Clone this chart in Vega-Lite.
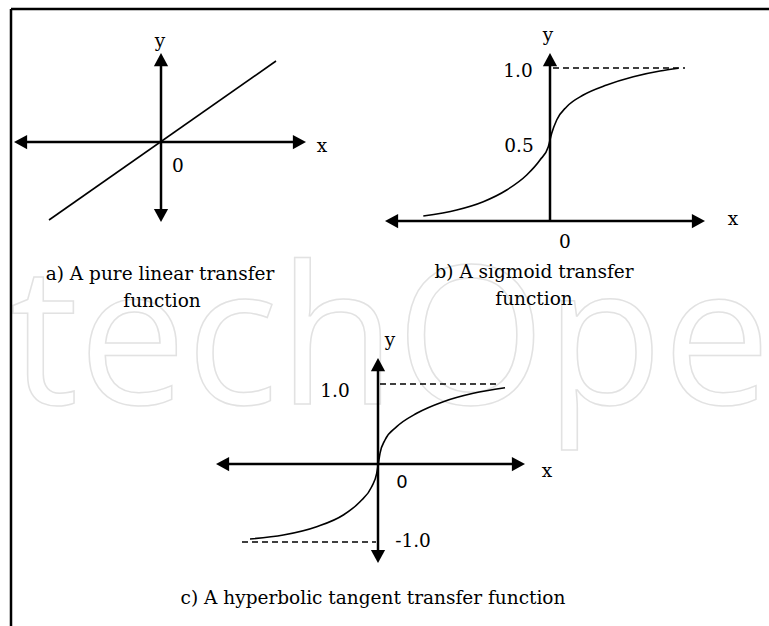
{
  "$schema": "https://vega.github.io/schema/vega-lite/v6.json",
  "width": 769,
  "height": 626,
  "padding": 0,
  "autosize": "none",
  "background": "white",
  "config": {"view": {"stroke": null}},
  "datasets": {
    "watermark": [{"x": 10, "y": 404, "label": "techOpe"}],
    "frame": [
      {"x": 11, "y": 9, "x2": 769, "y2": 9},
      {"x": 11, "y": 9, "x2": 11, "y2": 626}
    ],
    "axes": [
      {"panel": "a", "axis": "x", "x": 20, "y": 142, "x2": 300, "y2": 142},
      {"panel": "a", "axis": "y", "x": 161, "y": 59, "x2": 161, "y2": 216},
      {"panel": "b", "axis": "x", "x": 391, "y": 221, "x2": 699, "y2": 221},
      {"panel": "b", "axis": "y", "x": 550, "y": 59, "x2": 550, "y2": 221},
      {"panel": "c", "axis": "x", "x": 222, "y": 464, "x2": 519, "y2": 464},
      {"panel": "c", "axis": "y", "x": 378, "y": 364, "x2": 378, "y2": 557}
    ],
    "arrows": [
      {"panel": "a", "end": "left", "x": 14, "y": 142},
      {"panel": "a", "end": "right", "x": 306, "y": 142},
      {"panel": "a", "end": "up", "x": 161, "y": 53},
      {"panel": "a", "end": "down", "x": 161, "y": 222},
      {"panel": "b", "end": "left", "x": 385, "y": 221},
      {"panel": "b", "end": "right", "x": 705, "y": 221},
      {"panel": "b", "end": "up", "x": 550, "y": 53},
      {"panel": "c", "end": "left", "x": 216, "y": 464},
      {"panel": "c", "end": "right", "x": 525, "y": 464},
      {"panel": "c", "end": "up", "x": 378, "y": 358},
      {"panel": "c", "end": "down", "x": 378, "y": 563}
    ],
    "asymptotes": [
      {"panel": "b", "level": "1.0", "x": 553, "y": 68, "x2": 685, "y2": 68},
      {"panel": "c", "level": "1.0", "x": 380, "y": 384, "x2": 500, "y2": 384},
      {"panel": "c", "level": "-1.0", "x": 242, "y": 542, "x2": 376, "y2": 542}
    ],
    "curves": [
      {"curve": "linear", "i": 0, "x": 49, "y": 220},
      {"curve": "linear", "i": 1, "x": 276, "y": 61},
      {"curve": "sigmoid", "i": 0, "x": 423.3, "y": 216},
      {"curve": "sigmoid", "i": 1, "x": 456.7, "y": 210},
      {"curve": "sigmoid", "i": 2, "x": 483.3, "y": 201.7},
      {"curve": "sigmoid", "i": 3, "x": 506.7, "y": 190},
      {"curve": "sigmoid", "i": 4, "x": 526.7, "y": 175},
      {"curve": "sigmoid", "i": 5, "x": 540, "y": 160},
      {"curve": "sigmoid", "i": 6, "x": 548.3, "y": 146.7},
      {"curve": "sigmoid", "i": 7, "x": 551.7, "y": 133.3},
      {"curve": "sigmoid", "i": 8, "x": 556.7, "y": 120},
      {"curve": "sigmoid", "i": 9, "x": 566.7, "y": 106.7},
      {"curve": "sigmoid", "i": 10, "x": 583.3, "y": 95},
      {"curve": "sigmoid", "i": 11, "x": 606.7, "y": 85},
      {"curve": "sigmoid", "i": 12, "x": 633.3, "y": 76.7},
      {"curve": "sigmoid", "i": 13, "x": 660, "y": 71},
      {"curve": "sigmoid", "i": 14, "x": 678.3, "y": 68.3},
      {"curve": "tanh", "i": 0, "x": 250, "y": 539},
      {"curve": "tanh", "i": 1, "x": 283.3, "y": 535},
      {"curve": "tanh", "i": 2, "x": 316.7, "y": 526.7},
      {"curve": "tanh", "i": 3, "x": 343.3, "y": 515},
      {"curve": "tanh", "i": 4, "x": 360, "y": 501.7},
      {"curve": "tanh", "i": 5, "x": 371.7, "y": 486.7},
      {"curve": "tanh", "i": 6, "x": 376.7, "y": 473.3},
      {"curve": "tanh", "i": 7, "x": 378.3, "y": 464},
      {"curve": "tanh", "i": 8, "x": 380, "y": 453.3},
      {"curve": "tanh", "i": 9, "x": 385, "y": 440},
      {"curve": "tanh", "i": 10, "x": 396.7, "y": 426.7},
      {"curve": "tanh", "i": 11, "x": 416.7, "y": 413.3},
      {"curve": "tanh", "i": 12, "x": 443.3, "y": 401.7},
      {"curve": "tanh", "i": 13, "x": 473.3, "y": 393.3},
      {"curve": "tanh", "i": 14, "x": 505, "y": 387.7}
    ],
    "labels": [
      {"panel": "a", "kind": "axis", "label": "y", "x": 160, "y": 47},
      {"panel": "a", "kind": "axis", "label": "x", "x": 322, "y": 152},
      {"panel": "a", "kind": "origin", "label": "0", "x": 178, "y": 172},
      {"panel": "a", "kind": "caption", "label": "a) A pure linear transfer", "x": 160, "y": 280},
      {"panel": "a", "kind": "caption", "label": "function", "x": 162, "y": 307},
      {"panel": "b", "kind": "axis", "label": "y", "x": 548, "y": 41},
      {"panel": "b", "kind": "axis", "label": "x", "x": 733, "y": 225},
      {"panel": "b", "kind": "origin", "label": "0", "x": 565, "y": 248},
      {"panel": "b", "kind": "tick", "label": "1.0", "x": 518, "y": 77},
      {"panel": "b", "kind": "tick", "label": "0.5", "x": 519, "y": 152},
      {"panel": "b", "kind": "caption", "label": "b) A sigmoid transfer", "x": 534, "y": 278},
      {"panel": "b", "kind": "caption", "label": "function", "x": 534, "y": 305},
      {"panel": "c", "kind": "axis", "label": "y", "x": 390, "y": 346},
      {"panel": "c", "kind": "axis", "label": "x", "x": 547, "y": 477},
      {"panel": "c", "kind": "tick", "label": "1.0", "x": 335, "y": 397},
      {"panel": "c", "kind": "tick", "label": "-1.0", "x": 413, "y": 547},
      {"panel": "c", "kind": "caption", "label": "c) A hyperbolic tangent transfer function", "x": 373, "y": 604},
      {"panel": "c", "kind": "origin", "label": "0", "x": 402, "y": 488}
    ]
  },
  "encoding": {
    "x": {"field": "x", "type": "quantitative", "scale": {"domain": [0, 769], "nice": false, "zero": false}, "axis": null},
    "y": {"field": "y", "type": "quantitative", "scale": {"domain": [0, 626], "nice": false, "zero": false, "reverse": true}, "axis": null}
  },
  "layer": [
    {
      "data": {"name": "watermark"},
      "mark": {"type": "text", "font": "Open Sans", "fontSize": 192, "align": "left", "baseline": "alphabetic", "fill": "transparent", "stroke": "#e2e2e2", "strokeWidth": 1.5},
      "encoding": {"text": {"field": "label"}}
    },
    {
      "data": {"name": "frame"},
      "mark": {"type": "rule", "color": "black", "strokeWidth": 2.5},
      "encoding": {"x2": {"field": "x2"}, "y2": {"field": "y2"}}
    },
    {
      "data": {"name": "axes"},
      "mark": {"type": "rule", "color": "black", "strokeWidth": 2.5},
      "encoding": {"x2": {"field": "x2"}, "y2": {"field": "y2"}}
    },
    {
      "data": {"name": "asymptotes"},
      "mark": {"type": "rule", "color": "black", "strokeWidth": 1.4, "strokeDash": [6, 4]},
      "encoding": {"x2": {"field": "x2"}, "y2": {"field": "y2"}}
    },
    {
      "data": {"name": "curves"},
      "mark": {"type": "line", "color": "black", "strokeWidth": 1.6, "interpolate": "monotone"},
      "encoding": {"detail": {"field": "curve"}, "order": {"field": "i", "type": "quantitative"}}
    },
    {
      "data": {"name": "arrows"},
      "transform": [{"filter": "datum.end === 'up'"}],
      "mark": {"type": "point", "shape": "M0,0L1.9,3.5L-1.9,3.5Z", "size": 56.25, "filled": true, "color": "black", "opacity": 1},
      "encoding": {}
    },
    {
      "data": {"name": "arrows"},
      "transform": [{"filter": "datum.end === 'down'"}],
      "mark": {"type": "point", "shape": "M0,0L1.9,-3.5L-1.9,-3.5Z", "size": 56.25, "filled": true, "color": "black", "opacity": 1},
      "encoding": {}
    },
    {
      "data": {"name": "arrows"},
      "transform": [{"filter": "datum.end === 'left'"}],
      "mark": {"type": "point", "shape": "M0,0L3.5,1.9L3.5,-1.9Z", "size": 56.25, "filled": true, "color": "black", "opacity": 1},
      "encoding": {}
    },
    {
      "data": {"name": "arrows"},
      "transform": [{"filter": "datum.end === 'right'"}],
      "mark": {"type": "point", "shape": "M0,0L-3.5,1.9L-3.5,-1.9Z", "size": 56.25, "filled": true, "color": "black", "opacity": 1},
      "encoding": {}
    },
    {
      "data": {"name": "labels"},
      "transform": [{"filter": "!(datum.panel === 'c' && datum.kind === 'origin')"}],
      "mark": {"type": "text", "font": "DejaVu Serif", "fontSize": 18.5, "align": "center", "baseline": "alphabetic", "color": "black"},
      "encoding": {"text": {"field": "label"}}
    },
    {
      "data": {"name": "labels"},
      "transform": [{"filter": "datum.panel === 'c' && datum.kind === 'origin'"}],
      "mark": {"type": "text", "font": "DejaVu Sans", "fontSize": 18, "align": "center", "baseline": "alphabetic", "color": "black"},
      "encoding": {"text": {"field": "label"}}
    }
  ]
}
